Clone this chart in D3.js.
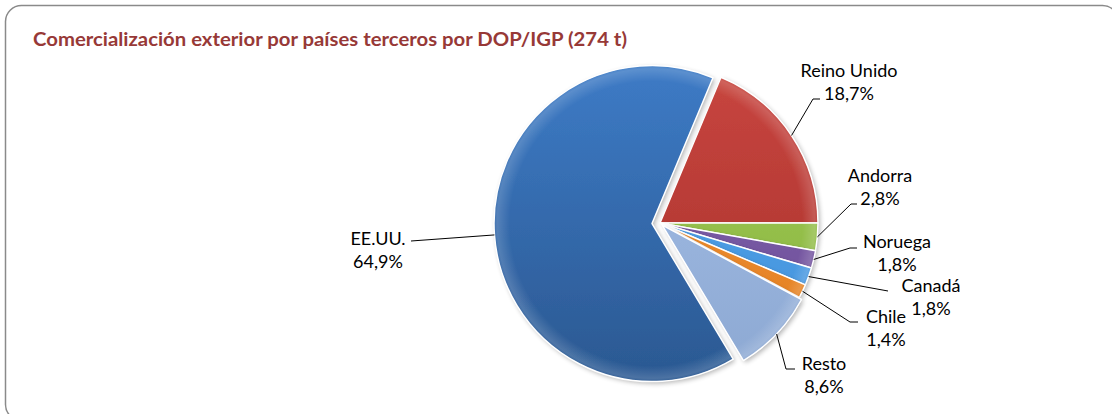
<!DOCTYPE html>
<html>
<head>
<meta charset="utf-8">
<script src="https://cdn.jsdelivr.net/npm/d3@7"></script>
<style>
  html, body { margin: 0; padding: 0; background: #fff; }
  svg { display: block; }
  text { font-family: Lato, "Open Sans", sans-serif; }
</style>
</head>
<body>
<svg id="chart" width="1112" height="414"></svg>
<script>
// Export volume shares by destination country (percent of 274 t)
const countries = ["Reino Unido", "Andorra", "Noruega", "Canadá", "Chile", "Resto", "EE.UU."];
const shares    = [18.7, 2.8, 1.8, 1.8, 1.4, 8.6, 64.9];
const titleText = "Comercialización exterior por países terceros por DOP/IGP (274 t)";

// Slice fills (top / bottom of a soft vertical shading)
const colorTop    = ["#c8463f", "#a3cd5a", "#8567b0", "#5aaaf0", "#f59a3c", "#a6c0e8", "#3d7bc6"];
const colorBottom = ["#a72f2c", "#86b13c", "#6a4c96", "#3f8fd8", "#e07b1f", "#8ca8d2", "#2b5891"];
// Radial offset of each slice from the pie centre
const explode = [0, 0, 0, 0, 0, 3, 8];

// Label layout: text centre x, first baseline y, leader elbow and end points
const labelX    = [849, 880, 897, 931, 886, 824, 378];
const labelY    = [77, 182, 248, 292, 323, 370, 245];
const elbow     = [[813, 99], [851, 204], [850, 248], [888, 291], [850, 322], [786, 369], [411, 241]];
const leaderEnd = [[820, 99], [857, 204], [857, 248], [888, 291], [858, 322], [795, 369], [411, 241]];

const svg = d3.select("#chart");
const cx = 660, cy = 223, R = 158;

// frame
svg.append("rect")
  .attr("x", 5.5).attr("y", 5.5)
  .attr("width", 1113).attr("height", 415)
  .attr("rx", 16).attr("ry", 16)
  .attr("fill", "#fff")
  .attr("stroke", "#8a8a8a").attr("stroke-width", 1.5);

// title
svg.append("text")
  .attr("x", 33).attr("y", 46)
  .attr("fill", "#973937")
  .attr("font-weight", "bold")
  .attr("font-size", 18.5)
  .attr("textLength", 594)
  .attr("lengthAdjust", "spacingAndGlyphs")
  .text(titleText);

const defs = svg.append("defs");
countries.forEach((c, i) => {
  const g = defs.append("linearGradient")
    .attr("id", "grad" + i)
    .attr("gradientUnits", "userSpaceOnUse")
    .attr("x1", 0).attr("y1", -R).attr("x2", 0).attr("y2", R);
  g.append("stop").attr("offset", "0%").attr("stop-color", colorTop[i]);
  g.append("stop").attr("offset", "100%").attr("stop-color", colorBottom[i]);
});
// soft bevelled rim
const rim = defs.append("radialGradient")
  .attr("id", "rim")
  .attr("gradientUnits", "userSpaceOnUse")
  .attr("cx", 0).attr("cy", 0).attr("r", R);
rim.append("stop").attr("offset", "90%").attr("stop-color", "#fff").attr("stop-opacity", 0);
rim.append("stop").attr("offset", "98%").attr("stop-color", "#fff").attr("stop-opacity", 0.16);
rim.append("stop").attr("offset", "100%").attr("stop-color", "#fff").attr("stop-opacity", 0.05);

const shadow = defs.append("filter").attr("id", "shadow")
  .attr("x", "-20%").attr("y", "-20%").attr("width", "140%").attr("height", "140%");
shadow.append("feGaussianBlur").attr("in", "SourceAlpha").attr("stdDeviation", 2.5).attr("result", "b");
shadow.append("feOffset").attr("in", "b").attr("dx", 2).attr("dy", 2).attr("result", "o");
shadow.append("feComponentTransfer").attr("in", "o").attr("result", "s")
  .append("feFuncA").attr("type", "linear").attr("slope", 0.3);
const merge = shadow.append("feMerge");
merge.append("feMergeNode").attr("in", "s");
merge.append("feMergeNode").attr("in", "SourceGraphic");

const startAngle = 22.7 * Math.PI / 180;
const pie = d3.pie().sort(null).value(d => d.v)
  .startAngle(startAngle).endAngle(startAngle + 2 * Math.PI);
const data = countries.map((c, i) => ({ c, v: shares[i], i }));
const arcs = pie(data);
const arc = d3.arc().innerRadius(0).outerRadius(R);

const fmt = d3.formatLocale({ decimal: ",", thousands: ".", grouping: [3], currency: ["", "€"] }).format(".1f");

function offsetOf(a) {
  const m = (a.startAngle + a.endAngle) / 2;
  const k = explode[a.index];
  return [k * Math.sin(m), -k * Math.cos(m)];
}

const slices = svg.append("g").attr("transform", `translate(${cx},${cy})`);
arcs.forEach(a => {
  const [ox, oy] = offsetOf(a);
  const g = slices.append("g").attr("transform", `translate(${ox},${oy})`);
  g.append("path")
    .attr("d", arc(a))
    .attr("fill", `url(#grad${a.index})`)
    .attr("filter", "url(#shadow)");
  g.append("path")
    .attr("d", arc(a))
    .attr("fill", "url(#rim)")
    .attr("stroke", "#fff").attr("stroke-width", 1.5).attr("stroke-linejoin", "round");
});

// leaders and labels
const labels = svg.append("g");
arcs.forEach(a => {
  const i = a.index;
  const m = (a.startAngle + a.endAngle) / 2;
  const [ox, oy] = offsetOf(a);
  const sx = cx + ox + R * Math.sin(m);
  const sy = cy + oy - R * Math.cos(m);
  labels.append("polyline")
    .attr("points", [[sx, sy], elbow[i], leaderEnd[i]].map(p => p.join(",")).join(" "))
    .attr("fill", "none").attr("stroke", "#000").attr("stroke-width", 1);
  const t = labels.append("text")
    .attr("text-anchor", "middle")
    .attr("font-size", 18)
    .attr("fill", "#000");
  t.append("tspan").attr("x", labelX[i]).attr("y", labelY[i]).text(a.data.c);
  t.append("tspan").attr("x", labelX[i]).attr("y", labelY[i] + 22.5).text(fmt(a.data.v) + "%");
});
</script>
</body>
</html>
